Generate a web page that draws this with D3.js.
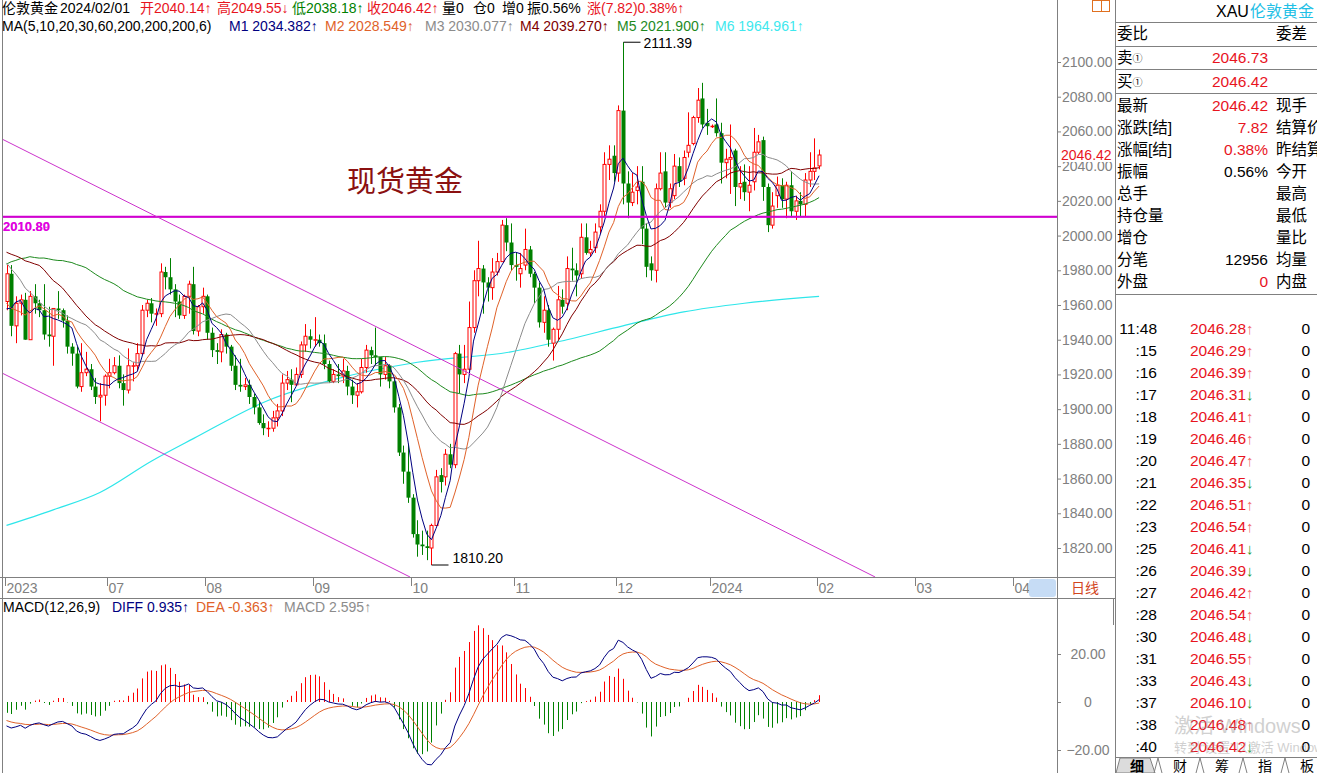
<!DOCTYPE html>
<html><head><meta charset="utf-8">
<script src="https://cdn.jsdelivr.net/npm/d3@7"></script>
<style>
body{margin:0;background:#fff;overflow:hidden}
svg{display:block}
text{font-family:"Liberation Sans",Arial,"Noto Sans CJK SC",sans-serif}
</style></head>
<body><svg id="c" width="1317" height="773"></svg>
<script>
// ================= DATA =================
const monthLabels = ["2023","07","08","09","10","11","12","2024","02","03","04"];
const monthStart  = [0,22,43,66,87,109,131,151,174,195,216];

// closes before the first visible candle (needed by the moving averages / MACD)
const warmupCloses = [1831,1868,1913,1904,1918,1919,1989,1978,1940,1970,1993,1978,1956,1973,1964,1980,1969,
 1984,2020,2021,2008,2007,1991,2003,2015,2040,2004,1995,2005,1994,2004,1983,1989,1998,1990,1989,1990,
 1983,2016,2039,2050,2017,2021,2034,2030,2015,2011,2017,1990,1982,1957,1978,1971,1975,1957,1941,1946,1943,1959,1963];

const open = [1962,1978,1948,1961,1963,1940,1965,1961,1957,1943,1942,1958,1957,1951,1936,1932,1913,1921,1923,1913,1907,1908,
 1919,1921,1925,1915,1911,1925,1925,1932,1957,1961,1955,1955,1979,1976,1969,1962,1954,1965,1972,1945,1959,
 1965,1944,1934,1933,1943,1936,1925,1914,1913,1914,1907,1901,1892,1889,1889,1895,1899,1915,1917,1914,1920,1937,1942,
 1940,1940,1938,1926,1916,1920,1919,1922,1913,1908,1910,1924,1934,1931,1930,1920,1925,1916,1901,1875,1864,
 1849,1828,1822,1821,1820,1833,1862,1861,1874,1868,1932,1920,1923,1947,1974,1981,1973,1970,1979,1985,2006,1996,
 1983,1978,1983,1992,1978,1970,1950,1957,1938,1946,1963,1961,1981,1980,1978,1999,1990,1993,2005,2014,2041,2046,
 2036,2072,2030,2019,2026,2031,2004,1984,1980,2027,2037,2019,2023,2040,2033,2048,2053,2068,2079,2065,
 2063,2064,2059,2042,2044,2049,2028,2031,2025,2031,2048,2055,2028,2006,2023,2029,2021,2029,2014,2020,2018,2032,2037,
 2040.14];
const high = [1983,1983,1965,1966,1967,1968,1972,1963,1972,1959,1958,1968,1958,1954,1938,1936,1938,1933,1926,1918,1915,1920,
 1929,1930,1931,1920,1935,1927,1938,1960,1963,1964,1958,1984,1982,1987,1972,1966,1966,1974,1982,1960,1970,
 1966,1947,1938,1946,1944,1937,1931,1929,1918,1917,1909,1904,1897,1893,1899,1903,1920,1922,1923,1924,1939,1949,1946,
 1953,1943,1943,1928,1923,1926,1929,1925,1917,1915,1929,1937,1936,1947,1930,1930,1926,1917,1903,1879,1880,
 1851,1836,1830,1830,1834,1865,1866,1877,1880,1933,1937,1937,1962,1980,1997,1983,1976,1987,1990,2009,2010,2007,
 1990,1990,2004,1994,1979,1973,1965,1960,1947,1971,1969,1988,1993,1984,2007,2007,1997,2007,2018,2048,2052,2052,
 2075,2111.39,2037,2036,2040,2040,2007,1988,2030,2048,2048,2030,2047,2045,2049,2071,2069,2085,2088,2073,
 2064,2079,2065,2050,2064,2050,2040,2041,2040,2062,2058,2057,2030,2025,2034,2033,2031,2037,2023,2025,2036,2048,2056,
 2049.55];
const low = [1957,1942,1938,1954,1940,1940,1955,1953,1940,1936,1925,1952,1947,1932,1925,1912,1910,1919,1911,1903,1893,1902,
 1912,1920,1912,1902,1909,1916,1922,1931,1953,1950,1948,1953,1969,1966,1953,1952,1952,1955,1943,1942,1955,
 1940,1930,1926,1927,1932,1922,1911,1910,1911,1903,1897,1891,1885,1884,1887,1890,1896,1911,1904,1914,1918,1933,1935,
 1936,1936,1923,1915,1915,1915,1915,1908,1903,1901,1909,1921,1926,1925,1913,1917,1912,1898,1873,1857,1846,
 1826,1815,1816,1813,1810.2,1833,1852,1856,1866,1866,1909,1915,1921,1944,1965,1955,1962,1963,1977,1985,1991,1980,
 1974,1970,1980,1976,1961,1947,1944,1936,1928,1940,1955,1957,1974,1965,1975,1989,1988,1990,2001,2011,2032,2031,
 2031,2018,2010,2017,2018,1995,1976,1974,1973,2026,2016,2016,2021,2028,2029,2045,2052,2065,2062,2058,
 2062,2057,2030,2033,2024,2017,2021,2020,2014,2026,2047,2020,2002,2004,2016,2016,2010,2011,2009,2011,2011,2028,2032,
 2038.18];
const close = [1978,1948,1961,1963,1940,1965,1961,1957,1943,1942,1958,1957,1951,1936,1932,1913,1921,1923,1913,1907,1908,1919,
 1921,1925,1915,1911,1925,1925,1932,1957,1961,1955,1955,1979,1976,1969,1962,1954,1965,1972,1945,1959,1965,
 1944,1934,1933,1943,1936,1925,1914,1913,1914,1907,1901,1892,1889,1889,1895,1899,1915,1917,1914,1920,1937,1942,1940,
 1940,1938,1926,1916,1920,1919,1922,1913,1908,1910,1924,1934,1931,1930,1920,1925,1916,1901,1875,1864,1849,
 1828,1822,1821,1820,1833,1861,1858,1874,1868,1932,1920,1923,1947,1974,1981,1973,1970,1979,1985,2006,1996,1983,
 1982,1981,1992,1978,1970,1950,1957,1940,1946,1963,1959,1981,1980,1977,1999,1990,1992,2002,2014,2041,2044,2036,
 2072,2030,2019,2025,2028,2004,1982,1980,2027,2036,2019,2027,2040,2031,2045,2052,2068,2078,2064,2063,
 2063,2059,2042,2044,2045,2028,2030,2025,2029,2048,2054,2028,2006,2017,2029,2021,2029,2014,2020,2018,2032,2037,2039,
 2046.42];

// 200-day average: [candle index, value]
const ma200Points = [[0,1833],[10,1842],[20,1852],[31,1870],[40,1883],[56,1905],[70,1917],[88,1927],[108,1933],[120,1940],[132,1948],[145,1956],[158,1961],[174,1964.96]];

const hLevels = [2010.80, 2010.89];
const trendUpper = [[-1.4,2056.2],[186,1803.3]];
const trendLower = [[-1.4,1921.4],[86.4,1803.3]];
const priceTicks = [1820,1840,1860,1880,1900,1920,1940,1960,1980,2000,2020,2040,2060,2080,2100];
const macdTicks = [20,0,-20];
const lastPrice = 2046.42;
const highMark = [132, 2111.39];
const lowMark = [91, 1810.20];
const maPeriods = [5,10,20,30,60];

const header1 = ["伦敦黄金","2024/02/01","开2040.14↑","高2049.55↓","低2038.18↑","收2046.42↑","量0","仓0","增0","振0.56%","涨(7.82)0.38%↑"];
const header2 = ["MA(5,10,20,30,60,200,200,200,6)","M1 2034.382↑","M2 2028.549↑","M3 2030.077↑","M4 2039.270↑","M5 2021.900↑","M6 1964.961↑"];
const macdHeader = ["MACD(12,26,9)","DIFF 0.935↑","DEA -0.363↑","MACD 2.595↑"];

const quoteLabels = ["委比","卖","买","最新","涨跌[结]","涨幅[结]","振幅","总手","持仓量","增仓","分笔","外盘"];
const quoteValues = ["","2046.73","2046.42","2046.42","7.82","0.38%","0.56%","","","","12956","0"];
const quoteRight  = ["委差","","","现手","结算价","昨结算","今开","最高","最低","量比","均量","内盘"];

const tickTimes = ["11:48",":15",":16",":17",":18",":19",":20",":21",":22",":23",":25",":26",":27",":28",":30",":31",":33",":37",":38",":40"];
const tickPrices = [2046.28,2046.29,2046.39,2046.31,2046.41,2046.46,2046.47,2046.35,2046.51,2046.54,2046.41,2046.39,2046.42,2046.54,2046.48,2046.55,2046.43,2046.10,2046.48,2046.42];
const tickDirs = [1,1,1,-1,1,1,1,-1,1,1,-1,-1,1,1,-1,1,-1,-1,1,-1];
const tickVols = [0,0,0,0,0,0,0,0,0,0,0,0,0,0,0,0,0,0,0,0];
const tabs = ["细","财","筹","指","板"];

// ================= DRAW =================
const svg = d3.select("#c");
const RED="#e8141e", GREEN="#008000", AX="#808080";
const maColors = ["#000080","#e0622a","#8c8c8c","#800000","#1e8a1e"];
const ma200Color = "#2ee6ea";

const x = d3.scaleLinear().domain([0,216]).range([6.5, 6.5+216*4.67]);
const y = d3.scaleLinear().domain([1820,2100]).range([548,62]);
const ym = d3.scaleLinear().domain([-20,20]).range([750,654]);

const defs = svg.append("defs");
defs.append("clipPath").attr("id","mainClip").append("rect").attr("x",3).attr("y",0).attr("width",1054).attr("height",577);
defs.append("clipPath").attr("id","macdClip").append("rect").attr("x",3).attr("y",598).attr("width",1054).attr("height",175);

// frame lines
const frame = svg.append("g").attr("stroke",AX).attr("stroke-width",1).attr("shape-rendering","crispEdges");
[[2.5,0,2.5,773],[1057.5,0,1057.5,773],[1115.5,0,1115.5,773],[0,577.5,1115,577.5],[0,598.5,1115,598.5]]
  .forEach(l=>frame.append("line").attr("x1",l[0]).attr("y1",l[1]).attr("x2",l[2]).attr("y2",l[3]));

// -------- moving averages ----------
const all = warmupCloses.concat(close);
const off = warmupCloses.length;
function sma(n){ return close.map((_,i)=>{ const j=i+off; return d3.mean(all.slice(j-n+1,j+1)); }); }
const main = svg.append("g").attr("clip-path","url(#mainClip)");

const lineGen = d3.line().x((d,i)=>x(i)).y(d=>y(d));
// MA200 (read values)
main.append("path").datum(ma200Points).attr("fill","none").attr("stroke",ma200Color).attr("stroke-width",1.2)
  .attr("d", d3.line().curve(d3.curveMonotoneX).x(d=>x(d[0])).y(d=>y(d[1])));

// candles
const cg = main.append("g");
close.forEach((c,i)=>{
  const o=open[i], h=high[i], l=low[i];
  const cx = Math.round(x(i))+0.5;
  const up = c>=o;
  const top=y(Math.max(o,c)), bot=y(Math.min(o,c));
  if(up){
    cg.append("line").attr("x1",cx).attr("x2",cx).attr("y1",y(h)).attr("y2",top).attr("stroke","#ff0000");
    cg.append("line").attr("x1",cx).attr("x2",cx).attr("y1",bot).attr("y2",y(l)).attr("stroke","#ff0000");
    cg.append("rect").attr("x",cx-1.5).attr("y",top).attr("width",3).attr("height",Math.max(bot-top,0.5))
      .attr("fill","#fff").attr("stroke","#ff0000").attr("stroke-width",1);
  } else {
    cg.append("line").attr("x1",cx).attr("x2",cx).attr("y1",y(h)).attr("y2",y(l)).attr("stroke",GREEN);
    cg.append("rect").attr("x",cx-2).attr("y",top).attr("width",4).attr("height",Math.max(bot-top,1)).attr("fill",GREEN);
  }
});

// MA lines (drawn over candles)
[4,3,2,1,0].forEach(k=>{
  main.append("path").datum(sma(maPeriods[k])).attr("fill","none").attr("stroke",maColors[k]).attr("stroke-width",1).attr("d",lineGen);
});

// horizontal level & trend lines
hLevels.forEach(v=>main.append("line").attr("x1",3).attr("x2",1057).attr("y1",y(v)).attr("y2",y(v)).attr("stroke","#d000d0").attr("stroke-width",1.6));
[trendUpper,trendLower].forEach(t=>main.append("line").attr("x1",x(t[0][0])).attr("y1",y(t[0][1])).attr("x2",x(t[1][0])).attr("y2",y(t[1][1]))
  .attr("stroke","#cc33cc").attr("stroke-width",1));

svg.append("text").attr("x",3).attr("y",231).attr("fill","#e000e0").attr("font-size",13).attr("font-weight","bold").text(hLevels[0].toFixed(2));
svg.append("text").attr("x",3).attr("y",231).attr("fill","#e000e0").attr("font-size",13).attr("font-weight","bold").attr("opacity",0.6).text(hLevels[1].toFixed(2));

// high / low markers
{
  const hx=Math.round(x(highMark[0]))+0.5, hy=y(highMark[1]);
  svg.append("line").attr("x1",hx).attr("x2",hx+17).attr("y1",hy).attr("y2",hy).attr("stroke","#000");
  svg.append("text").attr("x",hx+20).attr("y",hy+6).attr("font-size",14).attr("fill","#000").text(highMark[1].toFixed(2));
  const lx=Math.round(x(lowMark[0]))+0.5, ly=y(lowMark[1]);
  svg.append("line").attr("x1",lx).attr("x2",lx+17).attr("y1",ly).attr("y2",ly).attr("stroke","#000");
  svg.append("text").attr("x",lx+21).attr("y",ly-2).attr("font-size",14).attr("fill","#000").text(lowMark[1].toFixed(2));
}

svg.append("text").attr("x",347).attr("y",192).attr("font-size",29).attr("fill","#8b1010")
  .attr("font-family",'"Noto Sans CJK SC",sans-serif').text("现货黄金");

// price axis
const pa = svg.append("g").attr("transform","translate(1057,0)")
  .call(d3.axisRight(y).tickValues(priceTicks).tickFormat(d3.format(".2f")).tickSize(4).tickPadding(1));
pa.select(".domain").remove();
pa.selectAll("line").attr("stroke",AX);
pa.selectAll("text").attr("fill",AX).attr("font-size",14).attr("font-family",'"Liberation Sans",Arial,sans-serif');
svg.append("rect").attr("x",1059).attr("y",147).attr("width",55).attr("height",15).attr("fill","#fff");
svg.append("text").attr("x",1061).attr("y",160).attr("fill",RED).attr("font-size",14).text(lastPrice.toFixed(2));

// time axis
const ta = svg.append("g");
monthLabels.forEach((m,k)=>{
  const tx = Math.round(x(monthStart[k]))-1.5;
  ta.append("line").attr("x1",tx).attr("x2",tx).attr("y1",578).attr("y2",586).attr("stroke",AX);
  ta.append("text").attr("x",tx+1).attr("y",593).attr("fill",AX).attr("font-size",14).text(m);
});
svg.append("rect").attr("x",1029).attr("y",579).attr("width",27).attr("height",18).attr("rx",3).attr("fill","#c6dcf5");
svg.append("text").attr("x",1071).attr("y",593).attr("fill","#d2461e").attr("font-size",14).text("日线");
svg.append("line").attr("x1",1113.5).attr("x2",1113.5).attr("y1",598).attr("y2",625).attr("stroke",AX);

// header
const h1x=[2,60,140,217,292,367,442,473,502,527,587];
const h1c=["#000","#000",RED,RED,GREEN,RED,"#000","#000","#000","#000",RED];
header1.forEach((t,k)=>svg.append("text").attr("x",h1x[k]).attr("y",13).attr("font-size",14).attr("fill",h1c[k]).text(t));
const h2x=[2,229,325,425,520,617,715];
const h2c=["#000",maColors[0],maColors[1],"#8c8c8c",maColors[3],maColors[4],"#3ee8ee"];
header2.forEach((t,k)=>svg.append("text").attr("x",h2x[k]).attr("y",31).attr("font-size",14).attr("fill",h2c[k]).text(t));

// -------- MACD ----------
function ema(arr,n){ const k=2/(n+1); let e=arr[0]; return arr.map((v,i)=> i===0? e : (e = e + k*(v-e))); }
const e12=ema(all,12), e26=ema(all,26);
const difAll = all.map((v,i)=>e12[i]-e26[i]);
const deaAll = ema(difAll,9);
const dif = close.map((_,i)=>difAll[i+off]);
const dea = close.map((_,i)=>deaAll[i+off]);
const hist = dif.map((d,i)=>2*(d-dea[i]));
const mg = svg.append("g").attr("clip-path","url(#macdClip)");
hist.forEach((v,i)=>{
  const cx=Math.round(x(i))+0.5;
  mg.append("line").attr("x1",cx).attr("x2",cx).attr("y1",ym(0)).attr("y2",ym(v)).attr("stroke",v>=0?"#ff0000":GREEN);
});
const ml = d3.line().x((d,i)=>x(i)).y(d=>ym(d));
mg.append("path").datum(dea).attr("fill","none").attr("stroke","#e0622a").attr("stroke-width",1).attr("d",ml);
mg.append("path").datum(dif).attr("fill","none").attr("stroke","#000080").attr("stroke-width",1).attr("d",ml);
const mx=[3,112,196,284], mc=["#000","#000080","#e0622a","#8c8c8c"];
macdHeader.forEach((t,k)=>svg.append("text").attr("x",mx[k]).attr("y",612).attr("font-size",14).attr("fill",mc[k]).text(t));
const ma = svg.append("g").attr("transform","translate(1057,0)")
  .call(d3.axisRight(ym).tickValues(macdTicks).tickFormat(d=>d===0?"0":d3.format(".2f")(d)).tickSize(4).tickPadding(1));
ma.select(".domain").remove();
ma.selectAll("line").attr("stroke",AX);
ma.selectAll("text").attr("fill",AX).attr("font-size",14).attr("x",31).attr("text-anchor","middle");

// -------- right quote panel ----------
const qp = svg.append("g");
svg.append("rect").attr("x",1092.5).attr("y",0.5).attr("width",17).attr("height",11).attr("fill","none").attr("stroke","#e07020");
svg.append("line").attr("x1",1101.5).attr("x2",1101.5).attr("y1",0).attr("y2",12).attr("stroke","#e07020");
svg.append("text").attr("x",1216).attr("y",17).attr("font-size",16).attr("fill","#000").text("XAU");
svg.append("text").attr("x",1250).attr("y",17).attr("font-size",16).attr("fill","#1ec0e6").text("伦敦黄金");
[22,46,69,93,294].forEach(ly=>qp.append("line").attr("x1",1115).attr("x2",1317).attr("y1",ly+0.5).attr("y2",ly+0.5).attr("stroke",AX));
const rowY=[33,57,81,105,127,149,171,193,215,237,259,281];
quoteLabels.forEach((t,k)=>{
  const tx = qp.append("text").attr("x",1117).attr("y",rowY[k]+6).attr("font-size",15.5).attr("fill","#000").text(t);
  if(k===1||k===2) tx.append("tspan").attr("font-size",10).attr("dy",-1).text("①");
  if(quoteValues[k]) qp.append("text").attr("x",1268).attr("y",rowY[k]+6).attr("font-size",15.5).attr("text-anchor","end")
      .attr("fill",(k===6||k===10)?"#000":RED).text(quoteValues[k]);
  if(quoteRight[k]) qp.append("text").attr("x",1276).attr("y",rowY[k]+6).attr("font-size",15.5).attr("fill","#000").text(quoteRight[k]);
});
tickTimes.forEach((t,k)=>{
  const cy = 328+22*k+6;
  qp.append("text").attr("x",1157).attr("y",cy).attr("font-size",15.5).attr("text-anchor","end").attr("fill","#000").text(t);
  qp.append("text").attr("x",1246).attr("y",cy).attr("font-size",15.5).attr("text-anchor","end").attr("fill",RED).text(tickPrices[k].toFixed(2));
  qp.append("text").attr("x",1246).attr("y",cy).attr("font-size",15).attr("fill",tickDirs[k]>0?"#f07070":"#2a9a2a").text(tickDirs[k]>0?"↑":"↓");
  qp.append("text").attr("x",1310).attr("y",cy).attr("font-size",15.5).attr("text-anchor","end").attr("fill","#000").text(tickVols[k]);
});
// tabs
qp.append("line").attr("x1",1115).attr("x2",1317).attr("y1",757.5).attr("y2",757.5).attr("stroke",AX);
qp.append("path").attr("d","M1116,773 L1120,758 L1150,758 L1155,773 Z").attr("fill","#dcdcdc").attr("stroke",AX);
const tabX=[1137,1180,1222,1265,1307];
tabs.forEach((t,k)=>{
  qp.append("text").attr("x",tabX[k]).attr("y",771).attr("font-size",14).attr("text-anchor","middle")
    .attr("font-weight",k===0?"bold":"normal").attr("fill","#000").text(t);
  if(k>0){ const sx=tabX[k]-22; qp.append("path").attr("d",`M${sx-4},773 L${sx},758 L${sx+4},773`).attr("fill","none").attr("stroke",AX); }
});
// watermark
svg.append("text").attr("x",1174).attr("y",733).attr("font-size",20).attr("fill","#999").attr("opacity",0.45).text("激活 Windows");
svg.append("text").attr("x",1174).attr("y",752).attr("font-size",13).attr("fill","#999").attr("opacity",0.45).text("转到“设置”以激活 Windows。");
</script></body></html>
